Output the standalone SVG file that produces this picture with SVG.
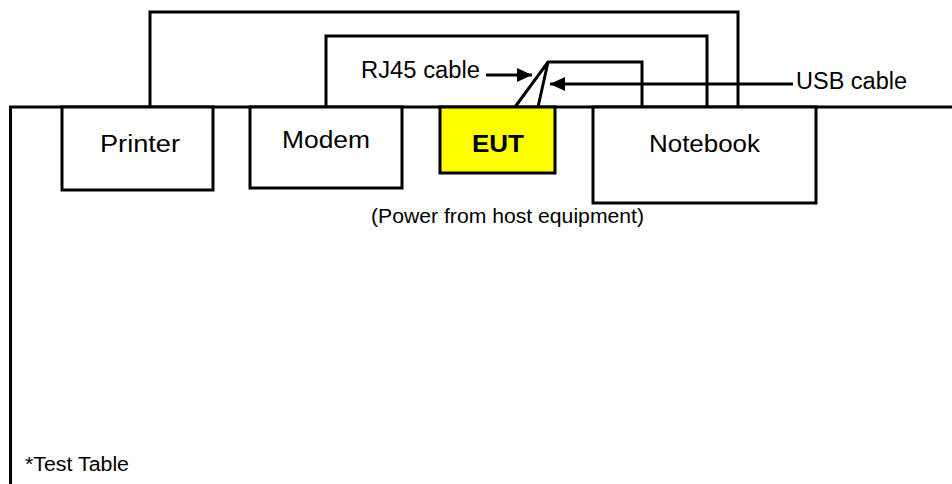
<svg xmlns="http://www.w3.org/2000/svg" width="952" height="484" viewBox="0 0 952 484">
<defs>
<style>
.box{fill:#fff;stroke:#000;stroke-width:3}
.ln{fill:none;stroke:#000;stroke-width:3;stroke-linejoin:miter}
.t{font-family:"Liberation Sans",Arial,sans-serif;font-size:23.5px;fill:#000}
.s{font-family:"Liberation Sans",Arial,sans-serif;font-size:19.5px;fill:#000}
</style>
<marker id="ah" markerUnits="userSpaceOnUse" markerWidth="16" markerHeight="16" viewBox="0 0 16 16" refX="15" refY="8" orient="auto">
<polygon points="0,1 15,8 0,15" fill="#000"/>
</marker>
</defs>
<rect width="952" height="484" fill="#fff"/>
<g id="table">
<path class="ln" d="M10.5,484 V107 H952" stroke-width="3"/>
<text class="s" x="25" y="471" textLength="104" lengthAdjust="spacingAndGlyphs">*Test Table</text>
</g>
<g id="connectors">
<path class="ln" d="M150,107 V12 H738 V107"/>
<path class="ln" d="M326,107 V36 H707 V107"/>
<path class="ln" d="M642,107 V62 H548 L515,107 M548,62 L538,107"/>
<line class="ln" x1="486" y1="75" x2="532" y2="75" marker-end="url(#ah)"/>
<line class="ln" x1="793" y1="84" x2="550" y2="84" marker-end="url(#ah)"/>
<text class="t" x="361" y="78" textLength="119" lengthAdjust="spacingAndGlyphs">RJ45 cable</text>
<text class="t" x="796" y="89" textLength="111" lengthAdjust="spacingAndGlyphs">USB cable</text>
</g>
<g id="printer">
<rect class="box" x="62" y="107" width="151" height="83"/>
<text class="t" x="100" y="152" textLength="80" lengthAdjust="spacingAndGlyphs">Printer</text>
</g>
<g id="modem">
<rect class="box" x="250" y="107" width="152" height="81"/>
<text class="t" x="282" y="148" textLength="88" lengthAdjust="spacingAndGlyphs">Modem</text>
</g>
<g id="eut">
<rect class="box" x="440" y="107" width="115" height="66" style="fill:#ffff00"/>
<text class="t" x="472" y="152" textLength="52" lengthAdjust="spacingAndGlyphs" font-weight="bold">EUT</text>
</g>
<g id="notebook">
<rect class="box" x="593" y="107" width="223" height="96"/>
<text class="t" x="649" y="152" textLength="111" lengthAdjust="spacingAndGlyphs">Notebook</text>
</g>
<g id="power-note">
<text class="s" x="371" y="223" textLength="273" lengthAdjust="spacingAndGlyphs">(Power from host equipment)</text>
</g>
</svg>
